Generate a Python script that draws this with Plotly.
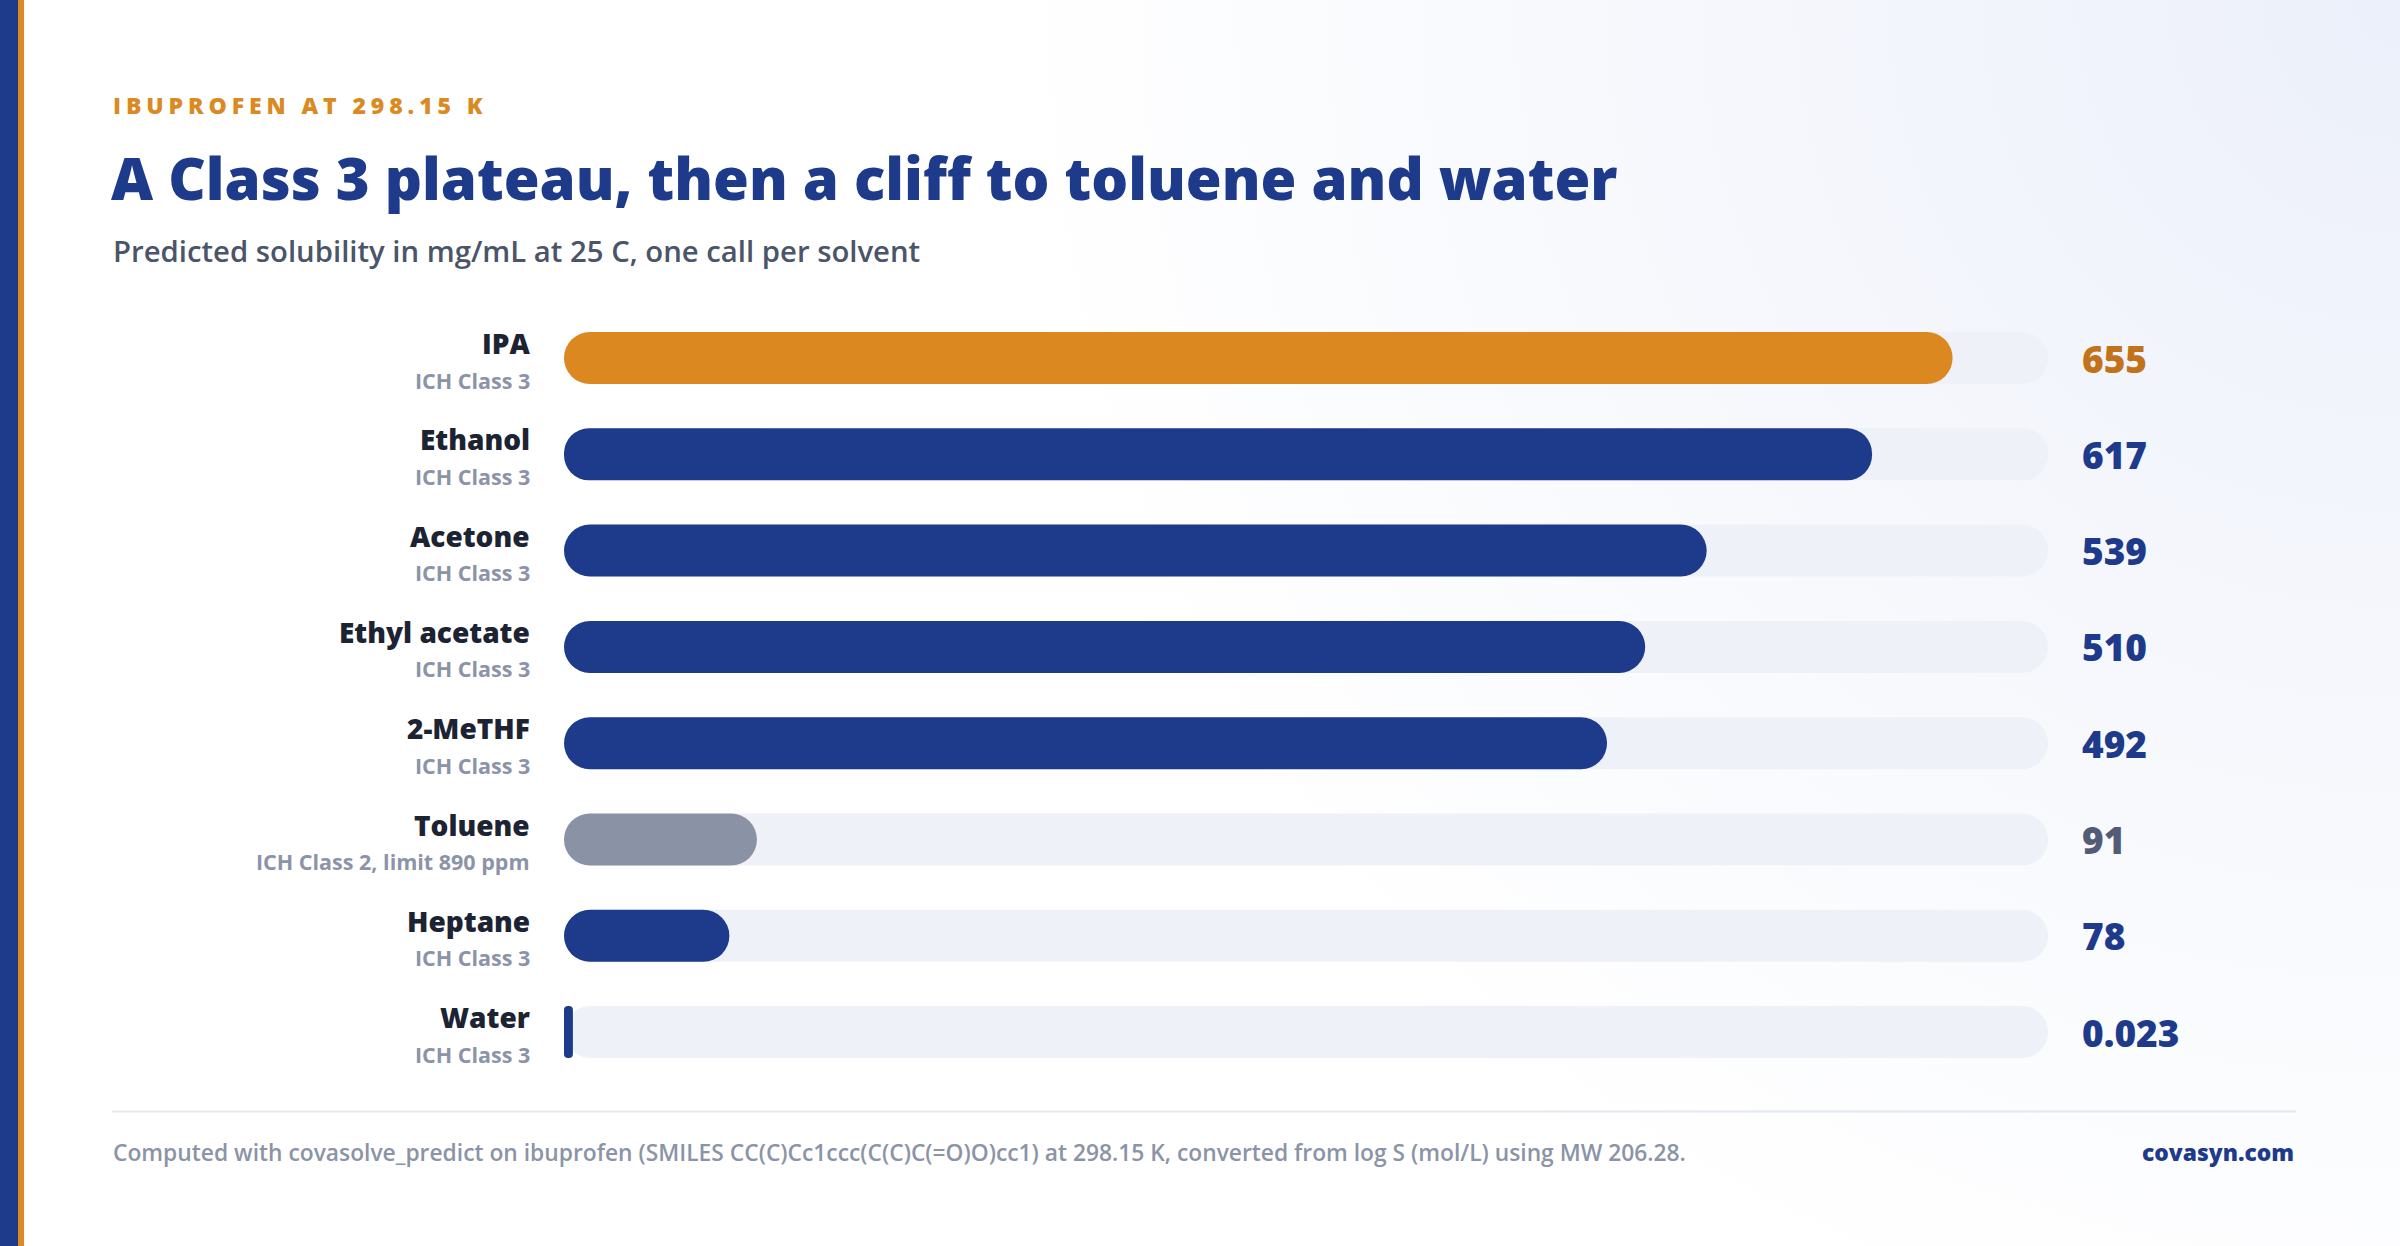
import base64
import plotly.graph_objects as go

# ---------------- data ----------------
solvents = ["IPA", "Ethanol", "Acetone", "Ethyl acetate", "2-MeTHF", "Toluene", "Heptane", "Water"]
ich_class = ["ICH Class 3", "ICH Class 3", "ICH Class 3", "ICH Class 3", "ICH Class 3",
             "ICH Class 2, limit 890 ppm", "ICH Class 3", "ICH Class 3"]
solubility_mg_ml = [655, 617, 539, 510, 492, 91, 78, 0.023]
value_labels = ["655", "617", "539", "510", "492", "91", "78", "0.023"]
scale_max = 700

eyebrow = "IBUPROFEN AT 298.15 K"
title = "A Class 3 plateau, then a cliff to toluene and water"
subtitle = "Predicted solubility in mg/mL at 25 C, one call per solvent"
footnote = ("Computed with covasolve_predict on ibuprofen (SMILES CC(C)Cc1ccc(C(C)C(=O)O)cc1) "
            "at 298.15 K, converted from log S (mol/L) using MW 206.28.")
brand = "covasyn.com"

# ---------------- style ----------------
W, H = 2400, 1246
NAVY = "#1e3a8a"
ORANGE = "#db8820"
GREY_BAR = "#8a93a5"
TRACK = "#eef1f8"
FONT = "Open Sans"

def role(i):
    if i == 0:
        return "lead"
    if "Class 2" in ich_class[i]:
        return "class2"
    return "normal"

bar_color = {"lead": ORANGE, "class2": GREY_BAR, "normal": NAVY}
val_color = {"lead": "#c2731a", "class2": "#525c78", "normal": NAVY}

MIN_VISIBLE = 4.2          # smallest drawn length (axis units) so tiny values stay visible
shown = [max(v, MIN_VISIBLE) for v in solubility_mg_ml]
idx = list(range(len(solvents)))

# pixel layout -> paper fractions
x0_px, x1_px = 564, 2048
row0_px, row_step = 358, 96.3
n = len(solvents)
top_px = row0_px - row_step / 2
bot_px = row0_px + row_step * (n - 1) + row_step / 2

def px(x):
    return x / W

def py(y):
    return 1 - y / H

fig = go.Figure()
fig.add_trace(go.Bar(
    x=[scale_max] * n, y=idx, base=[0] * n, orientation="h", width=0.54,
    marker=dict(color=TRACK, cornerradius=26, line=dict(width=0)),
    hoverinfo="skip", showlegend=False))
fig.add_trace(go.Bar(
    x=shown, y=idx, base=[0] * n, orientation="h", width=0.54,
    marker=dict(color=[bar_color[role(i)] for i in idx], cornerradius=26, line=dict(width=0)),
    customdata=value_labels, hovertemplate="%{customdata} mg/mL<extra></extra>",
    showlegend=False))

ann = []
for i in idx:
    ann.append(dict(xref="paper", yref="y", x=px(532), y=i, xanchor="right", yanchor="middle",
                    yshift=15, text=solvents[i], showarrow=False,
                    font=dict(family=FONT, size=28, weight=800, color="#1c2333")))
    ann.append(dict(xref="paper", yref="y", x=px(532), y=i, xanchor="right", yanchor="middle",
                    yshift=-22, text=ich_class[i], showarrow=False,
                    font=dict(family=FONT, size=21.5, weight=700, color="#8b94a7")))
    ann.append(dict(xref="paper", yref="y", x=px(2080), y=i, xanchor="left", yanchor="middle",
                    yshift=0, text=value_labels[i], showarrow=False,
                    font=dict(family=FONT, size=37, weight=800, color=val_color[role(i)])))

ann += [
    dict(xref="paper", yref="paper", x=px(111), y=py(105), xanchor="left", yanchor="middle",
         align="left", text=eyebrow, showarrow=False,
         font=dict(family=FONT, size=23, weight=800, color="#d98a22")),
    dict(xref="paper", yref="paper", x=px(109), y=py(177), xanchor="left", yanchor="middle",
         align="left", text=title, showarrow=False,
         font=dict(family=FONT, size=58, weight=800, color=NAVY)),
    dict(xref="paper", yref="paper", x=px(111), y=py(251), xanchor="left", yanchor="middle",
         align="left", text=subtitle, showarrow=False,
         font=dict(family=FONT, size=29.3, weight=600, color="#4b5569")),
    dict(xref="paper", yref="paper", x=px(111), y=py(1152), xanchor="left", yanchor="middle",
         align="left", text=footnote, showarrow=False,
         font=dict(family=FONT, size=22.8, weight=600, color="#8b94a7")),
    dict(xref="paper", yref="paper", x=px(2296), y=py(1152), xanchor="right", yanchor="middle",
         align="right", text=brand, showarrow=False,
         font=dict(family=FONT, size=22.8, weight=800, color=NAVY)),
]

shapes = [
    dict(type="rect", xref="paper", yref="paper", x0=0, x1=px(18), y0=0, y1=1,
         fillcolor=NAVY, line=dict(width=0), layer="above"),
    dict(type="rect", xref="paper", yref="paper", x0=px(18), x1=px(24), y0=0, y1=1,
         fillcolor="#db8a22", line=dict(width=0), layer="above"),
    dict(type="line", xref="paper", yref="paper", x0=px(112), x1=px(2296),
         y0=py(1111.5), y1=py(1111.5), line=dict(color="#e3e7f0", width=2)),
]

svg = (f"<svg xmlns='http://www.w3.org/2000/svg' width='{W}' height='{H}' viewBox='0 0 {W} {H}' "
       "preserveAspectRatio='none'><defs><radialGradient id='g' gradientUnits='userSpaceOnUse' "
       f"cx='{W}' cy='0' r='1400'><stop offset='0' stop-color='#ecf0fa'/>"
       "<stop offset='1' stop-color='#ffffff'/></radialGradient></defs>"
       f"<rect width='{W}' height='{H}' fill='url(#g)'/></svg>")
bg_src = "data:image/svg+xml;base64," + base64.b64encode(svg.encode()).decode()

fig.update_layout(
    width=W, height=H, margin=dict(l=0, r=0, t=0, b=0),
    paper_bgcolor="#ffffff", plot_bgcolor="rgba(0,0,0,0)",
    barmode="overlay", showlegend=False,
    xaxis=dict(range=[0, scale_max], domain=[px(x0_px), px(x1_px)], visible=False, fixedrange=True),
    yaxis=dict(range=[n - 0.5, -0.5], domain=[py(bot_px), py(top_px)], visible=False, fixedrange=True),
    annotations=ann, shapes=shapes,
    images=[dict(source=bg_src, xref="paper", yref="paper", x=0, y=1, sizex=1, sizey=1,
                 xanchor="left", yanchor="top", sizing="stretch", layer="below")],
)

post = """
(function(){
  function ls(){
    document.querySelectorAll('.annotation-text').forEach(function(t){
      if (t.textContent.indexOf('IBUPROFEN') === 0) { t.style.letterSpacing = '4.9px'; }
    });
  }
  ls();
  var gd = document.getElementById('{plot_id}');
  if (gd && gd.on) { gd.on('plotly_afterplot', ls); }
})();
"""

fig.write_html("out.html", config={"displayModeBar": False}, post_script=post)
